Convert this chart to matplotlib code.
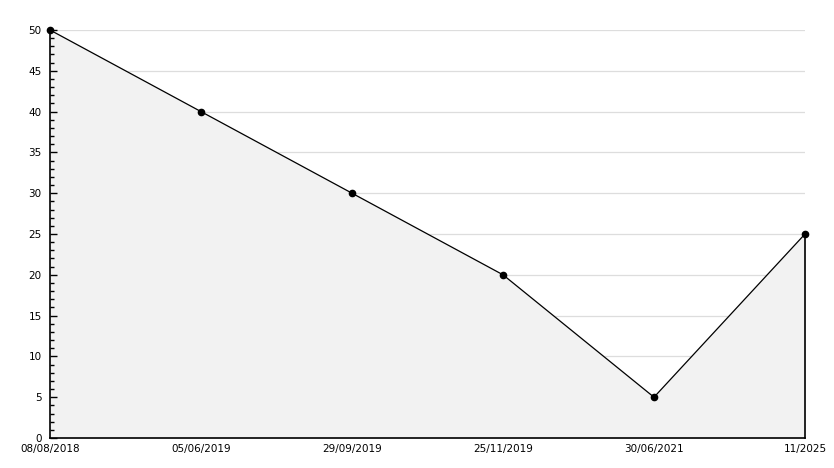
from matplotlib import pyplot as plt
from matplotlib.ticker import MultipleLocator

# Data
dates = ['08/08/2018', '05/06/2019', '29/09/2019', '25/11/2019', '30/06/2021', '11/2025']
values = [50, 40, 30, 20, 5, 25]


def main():
    fig = plt.figure(figsize=(8.34, 4.68), dpi=100)
    ax = fig.add_axes([50 / 834, 1 - 438 / 468, 755 / 834, 408 / 468])

    x = list(range(len(dates)))

    # Shaded area under the line
    ax.fill_between(x, values, 0, color='#f2f2f2', zorder=1)
    ax.plot([x[-1], x[-1]], [0, values[-1]], color='black', lw=1.2, zorder=3, clip_on=False)

    # Horizontal grid lines
    for yv in range(5, 51, 5):
        ax.axhline(yv, color='#dddddd', lw=0.9, zorder=0)

    ax.plot(x, values, color='black', lw=0.9, marker='o', ms=4.5,
            markeredgecolor='black', markerfacecolor='black', zorder=4, clip_on=False)

    ax.set_xlim(0, len(dates) - 1)
    ax.set_ylim(0, 50)
    ax.set_xticks(x)
    ax.set_xticklabels(dates)
    ax.yaxis.set_major_locator(MultipleLocator(5))
    ax.yaxis.set_minor_locator(MultipleLocator(1))

    for side in ['top', 'right']:
        ax.spines[side].set_visible(False)
    ax.spines['left'].set_linewidth(1.2)
    ax.spines['bottom'].set_linewidth(1.2)

    ax.tick_params(axis='y', which='major', direction='in', length=5, width=1, labelsize=7.5, pad=6)
    ax.tick_params(axis='y', which='minor', direction='in', length=3, width=1)
    ax.tick_params(axis='x', which='both', length=0, labelsize=7.5, pad=4)

    fig.savefig('out.png', dpi=100)


if __name__ == '__main__':
    main()
